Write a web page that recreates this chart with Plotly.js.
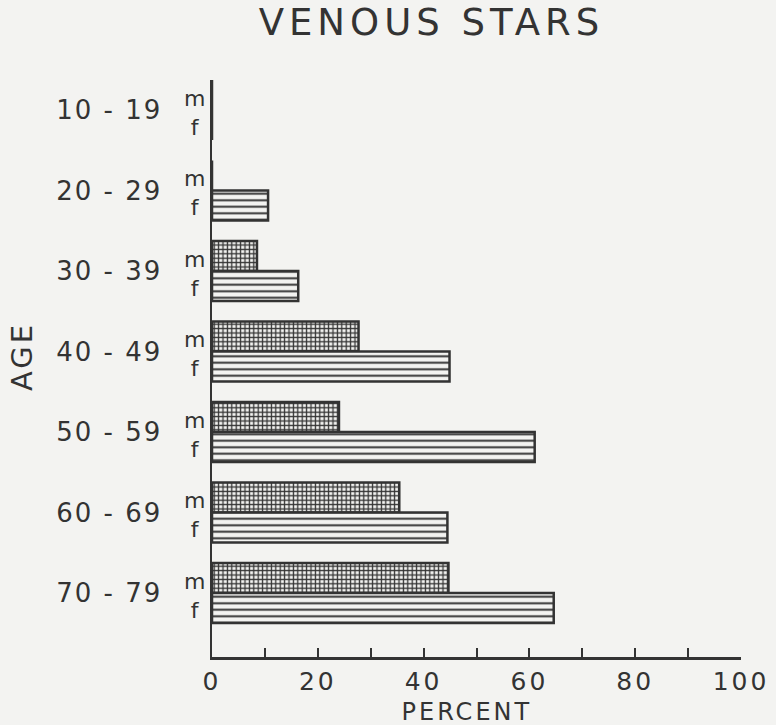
<!DOCTYPE html>
<html>
<head>
<meta charset="utf-8">
<script src="https://cdn.plot.ly/plotly-3.0.1.min.js"></script>
<style>
html,body{margin:0;padding:0;background:#f3f3f1;}
#chart{width:776px;height:725px;}
#chart .gtitle{letter-spacing:5px;}
#chart .ytick text{letter-spacing:2px;}
#chart .xtick text{letter-spacing:3px;}
#chart .annotation[data-index="7"] .annotation-text,
#chart .annotation[data-index="8"] .annotation-text{letter-spacing:3px;}
</style>
</head>
<body>
<div id="chart"></div>
<script>
// Data
const ageGroups = ["10 - 19", "20 - 29", "30 - 39", "40 - 49", "50 - 59", "60 - 69", "70 - 79"];
const malePercent = [0, 0, 8.5, 27.7, 24.0, 35.4, 44.7];
const femalePercent = [0, 10.6, 16.3, 44.9, 61.0, 44.5, 64.6];
const sexLabels = ["m", "f"];
const xTickVals = [0, 10, 20, 30, 40, 50, 60, 70, 80, 90, 100];
const xTickText = ["0", "", "20", "", "40", "", "60", "", "80", "", "100"];

const ink = "#333333";
const paperBg = "#f3f3f1";
const fontFam = "DejaVu Sans, Liberation Sans, sans-serif";

const traces = [
  {
    type: "bar", orientation: "h", name: "m",
    y: ageGroups, x: malePercent,
    marker: {
      color: paperBg,
      line: {color: ink, width: 2.5},
      pattern: {shape: "+", size: 4.4, solidity: 0.5, fgcolor: ink, bgcolor: paperBg, fillmode: "replace"}
    },
    hoverinfo: "x"
  },
  {
    type: "bar", orientation: "h", name: "f",
    y: ageGroups, x: femalePercent,
    marker: {
      color: paperBg,
      line: {color: ink, width: 2.5},
      pattern: {shape: "-", size: 6.5, solidity: 0.3, fgcolor: ink, bgcolor: paperBg, fillmode: "replace"}
    },
    hoverinfo: "x"
  }
];

// m / f labels next to each group (one two-line label per group)
const annotations = [];
ageGroups.forEach((g, i) => {
  annotations.push({xref: "paper", yref: "y", x: -0.034, y: i + 0.035, text: sexLabels.join("<br>"), showarrow: false,
    xanchor: "center", yanchor: "middle", align: "center", font: {family: fontFam, size: 22, color: ink}});
});
annotations.push({xref: "paper", yref: "paper", x: 0.482, y: -0.095, text: "PERCENT", showarrow: false,
  xanchor: "center", yanchor: "middle", font: {family: fontFam, size: 24, color: ink}});
annotations.push({xref: "paper", yref: "paper", x: -0.36, y: 0.52, text: "AGE", showarrow: false, textangle: -90,
  xanchor: "center", yanchor: "middle", font: {family: fontFam, size: 29, color: ink}});

const layout = {
  width: 776, height: 725,
  paper_bgcolor: paperBg, plot_bgcolor: paperBg,
  margin: {l: 211.5, r: 35, t: 80, b: 68},
  showlegend: false,
  barmode: "group", bargap: 0.255, bargroupgap: 0,
  title: {text: "VENOUS STARS", xref: "container", x: 0.556, xanchor: "center",
    yref: "container", y: 0.970, yanchor: "middle",
    font: {family: fontFam, size: 37, color: ink}},
  xaxis: {
    range: [0, 100], tickvals: xTickVals, ticktext: xTickText,
    ticks: "inside", ticklen: 9, tickwidth: 2, tickcolor: ink,
    showline: true, linecolor: ink, linewidth: 2.5,
    showgrid: false, zeroline: false,
    tickfont: {family: fontFam, size: 25, color: ink}
  },
  yaxis: {
    type: "category", range: [6.795, -0.3727],
    showline: true, linecolor: ink, linewidth: 2.5,
    ticks: "", showgrid: false, zeroline: false,
    ticklabelstandoff: 42,
    tickfont: {family: fontFam, size: 26, color: ink}
  },
  annotations: annotations
};

Plotly.newPlot("chart", traces, layout, {displayModeBar: false, staticPlot: true});
</script>
</body>
</html>
